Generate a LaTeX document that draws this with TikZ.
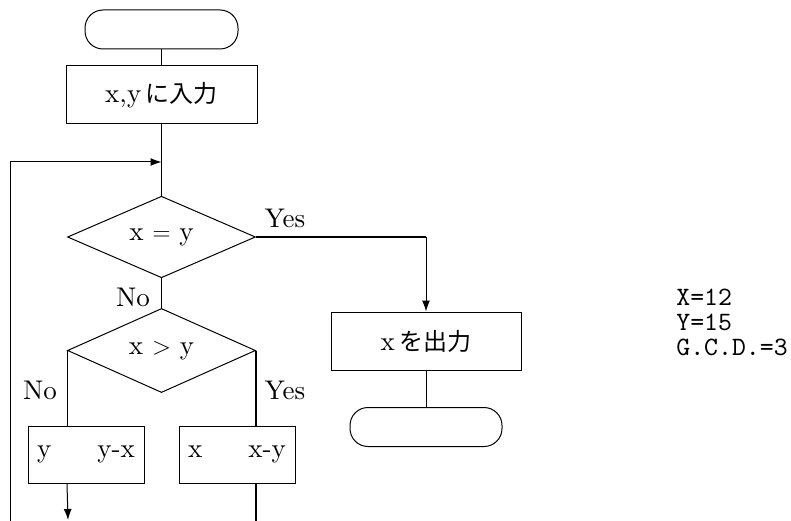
\documentclass[tikz,border=0pt]{standalone}
\usepackage{fontspec}
\setmainfont{lmroman10-regular.otf}
\setmonofont{lmmono10-regular.otf}
\newfontfamily\jp{Noto Sans CJK JP}
\usetikzlibrary{shapes.geometric,arrows.meta}
\begin{document}
\begin{tikzpicture}[x=1pt,y=-1pt,
  every node/.style={font=\fontsize{27}{31}\selectfont},
  ln/.style={line width=1pt},
  thk/.style={line width=1.8pt},
  arr/.style={-{Latex[length=11pt,width=8pt]}},
  term/.style={draw,line width=1pt,rounded corners=18pt,minimum width=153pt,minimum height=39pt,inner sep=0pt},
  proc/.style={draw,line width=1pt,rectangle,inner sep=0pt},
  dec/.style={draw,line width=1pt,diamond,inner sep=0pt,minimum width=188pt,minimum height=76pt},
  lbl/.style={inner sep=0pt}]
\useasboundingbox (0,0) rectangle (791,521);
\node[term] (start) at (161.5,29.5) {};
\node[proc,minimum width=191pt,minimum height=58pt] (input) at (161.5,95) {x,y\,{\jp\fontsize{24}{28}\selectfont に入力}};
\node[dec] (d1) at (161.5,237) {x $=$ y};
\node[dec] (d2) at (161.5,350.5) {x $>$ y};
\node[proc,minimum width=116pt,minimum height=57pt] (lb) at (86,454.5) {\makebox[98pt]{y\hfill y-x}};
\node[proc,minimum width=116pt,minimum height=57pt] (rb) at (237,454.5) {\makebox[98pt]{x\hfill x-y}};
\node[proc,minimum width=190pt,minimum height=58pt] (out) at (426,341) {x\,{\jp\fontsize{24}{28}\selectfont を出力}};
\node[term,minimum width=152pt,minimum height=39pt] (end) at (426,427) {};
\coordinate (join) at (161.5,162);
\coordinate (loopb) at (10,521);
\coordinate (lend) at (68,520);
\coordinate (rend) at (256,521);
\coordinate (yescorner) at (426,237);
\node[lbl] (yes1) at (285,218) {Yes};
\node[lbl] (no1) at (133,297) {No};
\node[lbl] (no2) at (40,390) {No};
\node[lbl] (yes2) at (285,390) {Yes};
\node[lbl,align=left,font=\fontsize{26.5}{25}\ttfamily] (res) at (732,322) {X=12\\Y=15\\G.C.D.=3};
\draw[ln] (start) -- (input);
\draw[ln] (input) -- (d1);
\draw[ln,arr] (loopb) |- (join);
\draw[ln] (d1) -- (d2);
\draw[thk] (d1.east) -- (yescorner);
\draw[ln,arr] (yescorner) -- (out.north);
\draw[ln] (out) -- (end);
\draw[ln] (d2.west) -- (d2.west |- lb.north);
\draw[thk] (d2.east) -- (d2.east |- rb.north);
\draw[ln,arr] (d2.west |- lb.south) -- (lend);
\draw[thk] (d2.east |- rb.south) -- (rend);
\end{tikzpicture}
\end{document}
